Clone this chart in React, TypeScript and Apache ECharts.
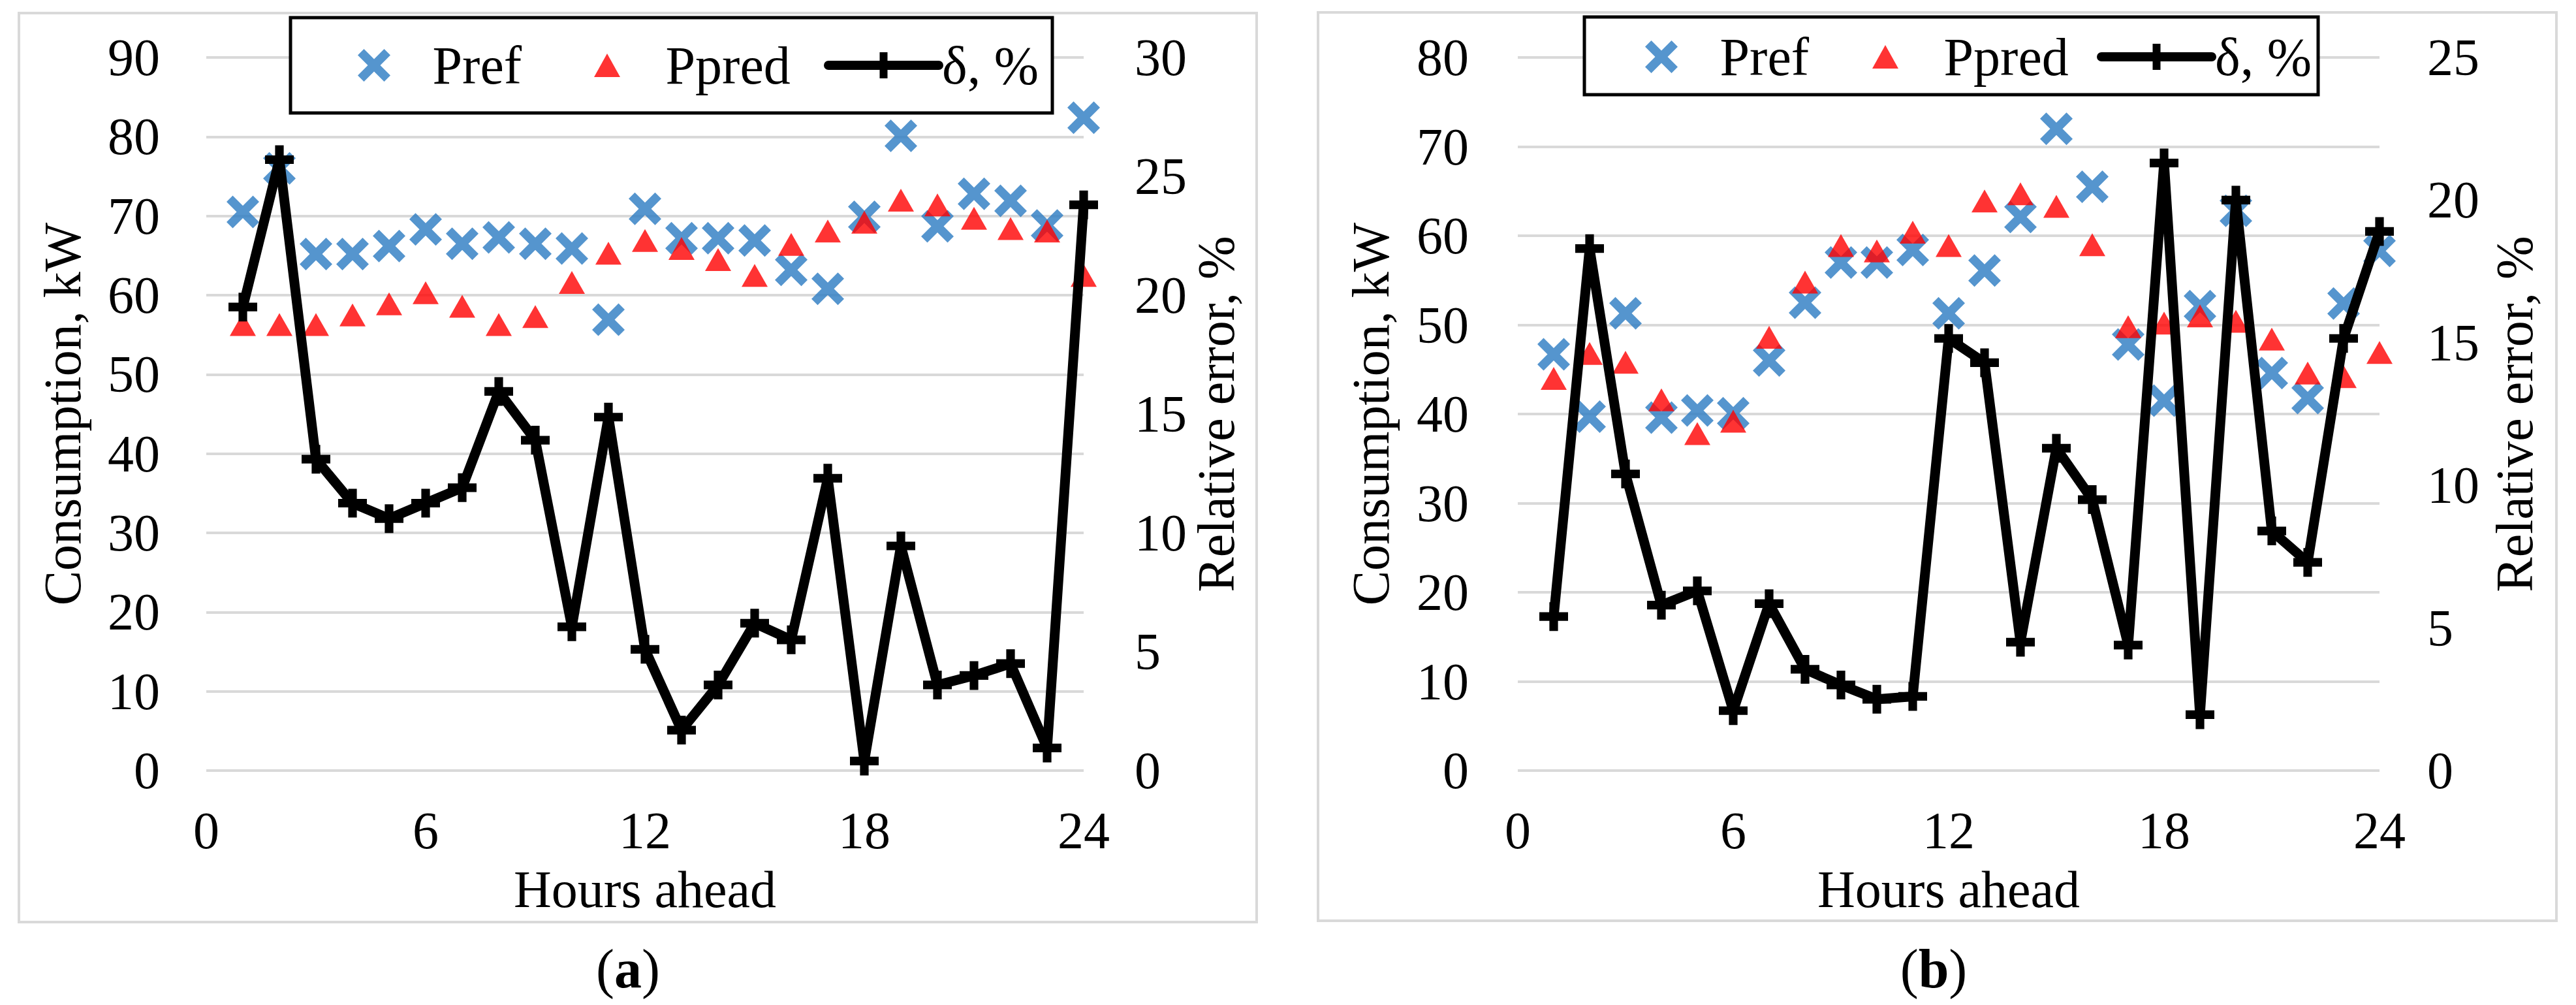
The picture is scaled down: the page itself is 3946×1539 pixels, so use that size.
import React, { useEffect, useRef } from "react";
import * as echarts from "echarts";

const hours = [1, 2, 3, 4, 5, 6, 7, 8, 9, 10, 11, 12, 13, 14, 15, 16, 17, 18, 19, 20, 21, 22, 23, 24];

// Panel (a)
const prefA = [70.5, 76, 65.2, 65.2, 66.2, 68.3, 66.5, 67.3, 66.5, 65.9, 56.9, 70.9, 67.2, 67.2, 66.9, 63.2, 60.8, 69.9, 80.1, 68.7, 72.8, 71.9, 68.8, 82.4];
const ppredA = [56.3, 56.3, 56.3, 57.5, 58.9, 60.3, 58.6, 56.3, 57.3, 61.6, 65.3, 66.9, 65.9, 64.5, 62.5, 66.4, 68.1, 69.2, 72.0, 71.4, 69.7, 68.4, 68.1, 62.5];
const deltaA = [19.5, 25.7, 13.1, 11.25, 10.6, 11.25, 11.9, 15.95, 13.9, 6.05, 14.87, 5.1, 1.7, 3.6, 6.2, 5.5, 12.3, 0.4, 9.45, 3.6, 4.0, 4.5, 0.95, 23.8];

// Panel (b)
const prefB = [46.7, 39.7, 51.3, 39.6, 40.4, 40.1, 46.0, 52.5, 57.0, 57.0, 58.4, 51.3, 56.1, 62.1, 72.0, 65.5, 47.8, 41.5, 52.1, 62.8, 44.6, 41.8, 52.4, 58.3];
const ppredB = [44.0, 46.8, 45.8, 41.6, 37.8, 39.2, 48.6, 54.8, 58.9, 58.3, 60.4, 58.9, 63.9, 64.7, 63.3, 59.0, 49.8, 50.2, 51.0, 50.4, 48.4, 44.6, 44.2, 46.9];
const deltaB = [5.4, 18.3, 10.4, 5.8, 6.3, 2.1, 5.85, 3.55, 3.0, 2.5, 2.6, 15.15, 14.3, 4.5, 11.3, 9.5, 4.4, 21.3, 1.96, 20.0, 8.4, 7.3, 15.15, 18.9];

const seriesNames = ["Pref", "Ppred", "δ, %"];
const xName = "Hours ahead";
const yLeftName = "Consumption, kW";
const yRightName = "Relative error, %";

const FONT = "Liberation Serif";
const X_PATH = "path://M0,19L19,0L50,31L81,0L100,19L69,50L100,81L81,100L50,69L19,100L0,81L31,50Z";
const TRI_PATH = "path://M50,0L100,87L0,87Z";
const TRI_LEGEND = "path://M0,0M100,100M50,14L90,86L10,86Z";
const PLUS_PATH = "path://M35,0H65V35H100V65H65V100H35V65H0V35H35Z";
const BLUE = "#2a7bc2";
const RED = "#ff0000";
const GRID_COLOR = "#d9d9d9";

function pairs(vals: number[]) {
  return hours.map((h, i) => [h, vals[i]]);
}

export default function App() {
  const ref = useRef<HTMLDivElement>(null);
  useEffect(() => {
    document.body.style.margin = "0";
    if (!ref.current) return;
    const chart = echarts.init(ref.current, null, { renderer: "svg" });

    const textBase = { fontFamily: FONT, fontSize: 80, color: "#000", lineHeight: 66 };

    const panels = [
      {
        grid: { left: 316, top: 88, width: 1344, height: 1092 },
        yMax: 90, yInt: 10, rMax: 30, rInt: 5,
        lMargin: 71, rMargin: 78, lGap: 187, rGap: 170,
        pref: prefA, ppred: ppredA, delta: deltaA,
        legendLefts: [548, 905, 1262], legendTop: 59,
        box: { x: 445, y: 27, width: 1167, height: 146 },
        frame: { x: 29, y: 20, width: 1896, height: 1392 },
      },
      {
        grid: { left: 2325, top: 88, width: 1320, height: 1092 },
        yMax: 80, yInt: 10, rMax: 25, rInt: 5,
        lMargin: 75, rMargin: 73, lGap: 192, rGap: 174,
        pref: prefB, ppred: ppredB, delta: deltaB,
        legendLefts: [2520, 2863, 3212], legendTop: 46,
        box: { x: 2427, y: 26, width: 1124, height: 119 },
        frame: { x: 2019, y: 19, width: 1897, height: 1391 },
      },
    ];

    const grid: any[] = [];
    const xAxis: any[] = [];
    const yAxis: any[] = [];
    const series: any[] = [];
    const legend: any[] = [];
    const graphic: any[] = [];

    const legendIcons = [X_PATH, TRI_LEGEND, undefined];

    panels.forEach((p, i) => {
      grid.push({ ...p.grid, containLabel: false, outerBoundsMode: "none" });
      xAxis.push({
        gridIndex: i,
        type: "value",
        min: 0,
        max: 24,
        interval: 6,
        axisLine: { show: false },
        axisTick: { show: false },
        splitLine: { show: false },
        axisLabel: { ...textBase, margin: 59 },
        name: xName,
        nameLocation: "middle",
        nameGap: 149,
        nameMoveOverlap: false,
        nameTextStyle: { ...textBase },
      });
      yAxis.push({
        gridIndex: i,
        type: "value",
        position: "left",
        min: 0,
        max: p.yMax,
        interval: p.yInt,
        axisLine: { show: false },
        axisTick: { show: false },
        splitLine: { show: true, lineStyle: { color: GRID_COLOR, width: 4 } },
        axisLabel: { ...textBase, margin: p.lMargin },
        name: yLeftName,
        nameLocation: "middle",
        nameGap: p.lGap,
        nameMoveOverlap: false,
        nameTextStyle: { ...textBase },
      });
      yAxis.push({
        gridIndex: i,
        type: "value",
        position: "right",
        min: 0,
        max: p.rMax,
        interval: p.rInt,
        axisLine: { show: false },
        axisTick: { show: false },
        splitLine: { show: false },
        axisLabel: { ...textBase, margin: p.rMargin },
        name: yRightName,
        nameLocation: "middle",
        nameGap: p.rGap,
        nameMoveOverlap: false,
        nameTextStyle: { ...textBase },
      });
      series.push({
        name: seriesNames[0],
        type: "scatter",
        xAxisIndex: i,
        yAxisIndex: i * 2,
        data: pairs(p.pref),
        symbol: X_PATH,
        symbolSize: 50,
        itemStyle: { color: BLUE },
        z: 2,
      });
      series.push({
        name: seriesNames[1],
        type: "scatter",
        xAxisIndex: i,
        yAxisIndex: i * 2,
        data: pairs(p.ppred),
        symbol: TRI_PATH,
        symbolSize: [40, 35],
        itemStyle: { color: RED },
        z: 3,
      });
      series.push({
        name: seriesNames[2],
        type: "line",
        xAxisIndex: i,
        yAxisIndex: i * 2 + 1,
        data: pairs(p.delta),
        symbol: PLUS_PATH,
        symbolSize: 44,
        showAllSymbol: true,
        lineStyle: { color: "#000", width: 15, cap: "round", join: "round" },
        itemStyle: { color: "#000" },
        z: 4,
      });
      seriesNames.forEach((name, k) => {
        legend.push({
          left: p.legendLefts[k],
          top: p.legendTop,
          padding: 0,
          orient: "horizontal",
          itemWidth: 169,
          itemHeight: 50,
          symbolKeepAspect: true,
          selectedMode: false,
          lineStyle: { width: 14, cap: "round", color: "#000" },
          textStyle: { fontFamily: FONT, fontSize: 82, color: "#000", lineHeight: 82 },
          data: [legendIcons[k] ? { name, icon: legendIcons[k] } : { name }],
          z: 10,
        });
      });
      graphic.push({
        type: "rect",
        silent: true,
        z: 6,
        shape: { ...p.box },
        style: { fill: "#fff", stroke: "#000", lineWidth: 5 },
      });
      graphic.push({
        type: "rect",
        silent: true,
        z: -10,
        shape: { ...p.frame },
        style: { fill: "none", stroke: GRID_COLOR, lineWidth: 4 },
      });
    });

    const panelLabel = (letter: string, x: number) => ({
      type: "text",
      x,
      y: 1483,
      style: {
        text: `{p|(}{b|${letter}}{p|)}`,
        align: "center",
        verticalAlign: "middle",
        rich: {
          p: { fontFamily: FONT, fontSize: 84, fill: "#000" },
          b: { fontFamily: FONT, fontSize: 84, fontWeight: "bold", fill: "#000" },
        },
      },
    });
    graphic.push(panelLabel("a", 962));
    graphic.push(panelLabel("b", 2962));

    chart.setOption({
      animation: false,
      backgroundColor: "#fff",
      textStyle: { fontFamily: FONT },
      grid,
      xAxis,
      yAxis,
      series,
      legend,
      graphic,
    });

    return () => chart.dispose();
  }, []);

  return <div ref={ref} style={{ width: 3946, height: 1539 }} />;
}
